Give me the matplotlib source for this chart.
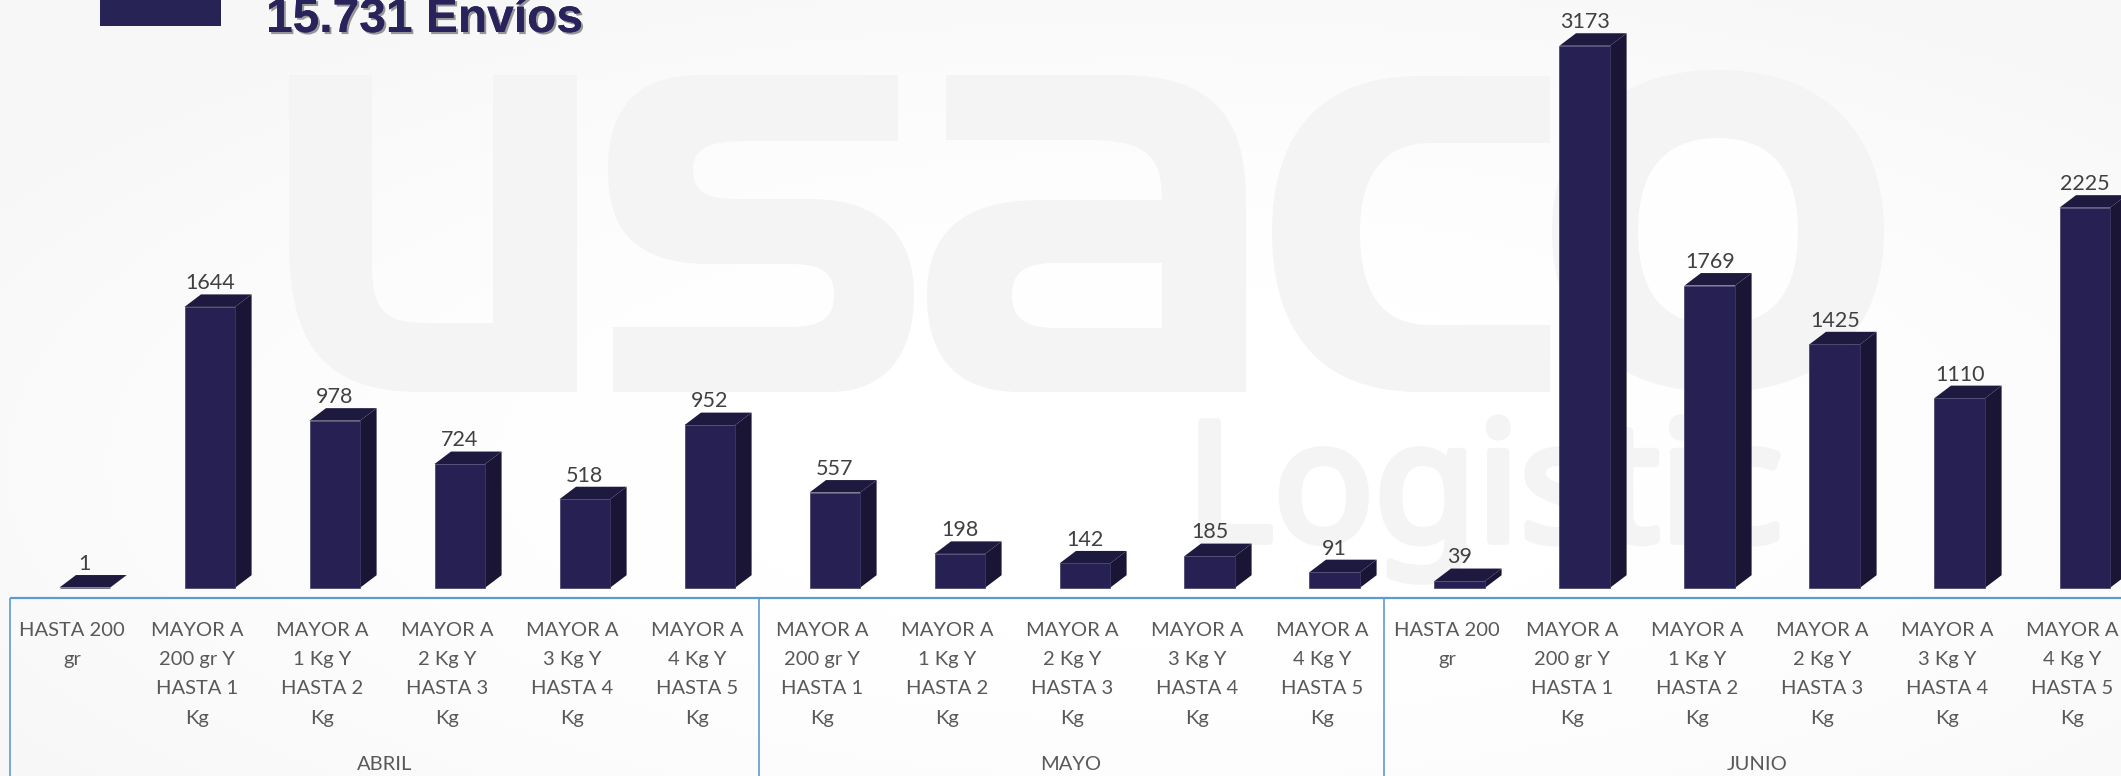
import matplotlib
matplotlib.use('Agg')
import matplotlib.pyplot as plt
import matplotlib.patheffects as pe
from matplotlib.path import Path
from matplotlib.patches import PathPatch, Polygon, Rectangle
import numpy as np

# Data
values = [1, 1644, 978, 724, 518, 952, 557, 198, 142, 185, 91, 39, 3173, 1769, 1425, 1110, 2225]
short_label = 'HASTA 200\ngr'
weight_labels = [
    'MAYOR A\n200 gr Y\nHASTA 1\nKg',
    'MAYOR A\n1 Kg Y\nHASTA 2\nKg',
    'MAYOR A\n2 Kg Y\nHASTA 3\nKg',
    'MAYOR A\n3 Kg Y\nHASTA 4\nKg',
    'MAYOR A\n4 Kg Y\nHASTA 5\nKg',
]
categories = [short_label] + weight_labels + weight_labels + [short_label] + weight_labels
months = ['ABRIL', 'MAYO', 'JUNIO']
title = '15.731 Envíos'

W, H = 2121, 776
BAR_STEP = 125.0       # px between bars
BAR_X0 = 84.8          # px of first bar centre
BASE_Y = 587.7         # px of the baseline
PX_PER_UNIT = 0.1708
BAR_W = 50.6
DEPTH_X = 16.5
DEPTH_Y = 12.5

FRONT = '#262152'
SIDE = '#1a1535'
TOP = '#1e1a3f'
EDGE = '#3f3b68'
MARK = '#f4f4f4'
HOLE = '#fefefe'
BOX = '#5b9bd5'
TEXT = '#595959'

fig = plt.figure(figsize=(W / 100, H / 100), dpi=100)

# Background layer in pixel coordinates
bg = fig.add_axes([0, 0, 1, 1])
bg.set_xlim(0, W)
bg.set_ylim(H, 0)
bg.axis('off')

yy, xx = np.mgrid[0:1:97j, 0:1:265j]
shade = 1 - 0.035 * np.clip(((xx - 0.55) ** 2 / 0.45 + (yy - 0.6) ** 2 / 0.5), 0, 1)
bg.imshow(shade, extent=(0, W, H, 0), cmap='gray', vmin=0, vmax=1, aspect='auto', zorder=0)


def letter(points):
    # points: ('M'|'L', x, y) or ('C', x1, y1, x2, y2, x, y)
    verts, codes = [], []
    for p in points:
        if p[0] == 'M':
            verts.append(p[1:])
            codes.append(Path.MOVETO)
        elif p[0] == 'L':
            verts.append(p[1:])
            codes.append(Path.LINETO)
        else:
            verts += [p[1:3], p[3:5], p[5:7]]
            codes += [Path.CURVE4] * 3
    verts.append(verts[0])
    codes.append(Path.CLOSEPOLY)
    return Path(verts, codes)


def watermark(points, color=MARK, zorder=1):
    bg.add_patch(PathPatch(letter(points), facecolor=color, edgecolor='none', zorder=zorder))


# u
watermark([('M', 289, 75), ('L', 372, 75), ('L', 372, 265), ('C', 372, 310, 385, 323, 425, 323),
           ('L', 493, 323), ('L', 493, 75), ('L', 577, 75), ('L', 577, 392), ('L', 420, 392),
           ('C', 320, 392, 289, 340, 289, 240)])
# s
watermark([('M', 898, 75), ('L', 898, 141), ('L', 745, 141), ('C', 705, 141, 693, 150, 693, 170),
           ('C', 693, 190, 705, 199, 735, 199), ('L', 810, 199), ('C', 885, 199, 914, 240, 914, 295),
           ('C', 914, 355, 885, 392, 830, 392), ('L', 613, 392), ('L', 613, 327), ('L', 790, 327),
           ('C', 825, 327, 834, 315, 834, 295), ('C', 834, 275, 825, 264, 790, 264), ('L', 710, 264),
           ('C', 630, 264, 608, 225, 608, 170), ('C', 608, 110, 635, 75, 700, 75)])
# a
watermark([('M', 946, 75), ('L', 1120, 75), ('C', 1215, 75, 1246, 120, 1246, 200), ('L', 1246, 392),
           ('L', 1020, 392), ('C', 950, 392, 927, 350, 927, 295), ('C', 927, 235, 960, 200, 1040, 200),
           ('L', 1162, 200), ('C', 1162, 160, 1150, 140, 1090, 140), ('L', 946, 140)])
watermark([('M', 1162, 263), ('L', 1162, 328), ('L', 1055, 328), ('C', 1022, 328, 1012, 315, 1012, 295),
           ('C', 1012, 275, 1022, 263, 1055, 263)], color=HOLE, zorder=1.1)
# c
watermark([('M', 1550, 76), ('L', 1550, 143), ('L', 1430, 143), ('C', 1380, 143, 1360, 180, 1360, 232),
           ('C', 1360, 290, 1380, 325, 1430, 325), ('L', 1550, 325), ('L', 1550, 392), ('L', 1420, 392),
           ('C', 1310, 392, 1272, 320, 1272, 232), ('C', 1272, 140, 1315, 76, 1420, 76)])
# o
watermark([('M', 1718, 70), ('C', 1830, 70, 1884, 140, 1884, 231), ('C', 1884, 325, 1830, 392, 1718, 392),
           ('C', 1606, 392, 1552, 325, 1552, 231), ('C', 1552, 140, 1606, 70, 1718, 70)])
watermark([('M', 1718, 138), ('C', 1775, 138, 1798, 175, 1798, 231), ('C', 1798, 290, 1775, 325, 1718, 325),
           ('C', 1661, 325, 1638, 290, 1638, 231), ('C', 1638, 175, 1661, 138, 1718, 138)],
          color=HOLE, zorder=1.1)
# The installed Noto Sans has no heavy cut, so thicken it with a stroke
bg.text(1186, 541, 'Logistic', family='Noto Sans', fontsize=120, color=MARK,
        ha='left', va='baseline', zorder=1,
        path_effects=[pe.withStroke(linewidth=5.5, foreground=MARK)])

# Legend swatch and heading, cut by the top edge of the slide
bg.add_patch(Rectangle((100, -5), 121, 30.7, facecolor='#282355', edgecolor='none', zorder=2))
bg.text(266, 32, title, family='Liberation Sans', fontweight='bold', fontsize=34.5, color='#29235c',
        ha='left', va='baseline', zorder=3,
        path_effects=[pe.withSimplePatchShadow(offset=(1.5, -1.5), shadow_rgbFace='#555555', alpha=0.6),
                      pe.Normal()])

# Category box under the bars
DIVIDERS = [10, 759, 1384]
bg.plot([DIVIDERS[0], W], [598, 598], color=BOX, lw=1.6, zorder=2, solid_capstyle='butt')
for px in DIVIDERS:
    bg.plot([px, px], [598, H], color=BOX, lw=1.2, zorder=2, solid_capstyle='butt')

for i, label in enumerate(categories):
    bg.text(72 + BAR_STEP * i, 622, label, family='Lato', fontsize=14.5, color=TEXT,
            ha='center', va='top', linespacing=1.87, zorder=3)
for name, px in zip(months, [384.5, 1071, 1757]):
    bg.text(px, 765, name, family='Lato', fontsize=14.5, color=TEXT, ha='center', va='center', zorder=3)

# Bars in data coordinates
ax = fig.add_axes([0, 0, 1, 1])
ax.patch.set_alpha(0)
ax.axis('off')
ax.set_xlim(-BAR_X0 / BAR_STEP, (W - BAR_X0) / BAR_STEP)
ax.set_ylim(-(H - BASE_Y) / PX_PER_UNIT, BASE_Y / PX_PER_UNIT)

x = np.arange(len(values))
dx = DEPTH_X / BAR_STEP
dy = DEPTH_Y / PX_PER_UNIT
half = BAR_W / BAR_STEP / 2

bars = ax.bar(x, values, width=half * 2, color=FRONT, edgecolor=EDGE, linewidth=0.5, zorder=4)
for xi, val in zip(x, values):
    left, right = xi - half, xi + half
    ax.add_patch(Polygon([(right, 0), (right + dx, dy), (right + dx, val + dy), (right, val)],
                         facecolor=SIDE, edgecolor='none', zorder=3))
    ax.add_patch(Polygon([(left, val), (left + dx, val + dy), (right + dx, val + dy), (right, val)],
                         facecolor=TOP, edgecolor='none', zorder=3))
    ax.annotate(str(val), xy=(xi, val + dy), xytext=(0, 8), textcoords='offset points',
                family='Lato', fontsize=15.5, color='#404040', ha='center', va='center', zorder=5)

fig.savefig('out.png', dpi=100)
